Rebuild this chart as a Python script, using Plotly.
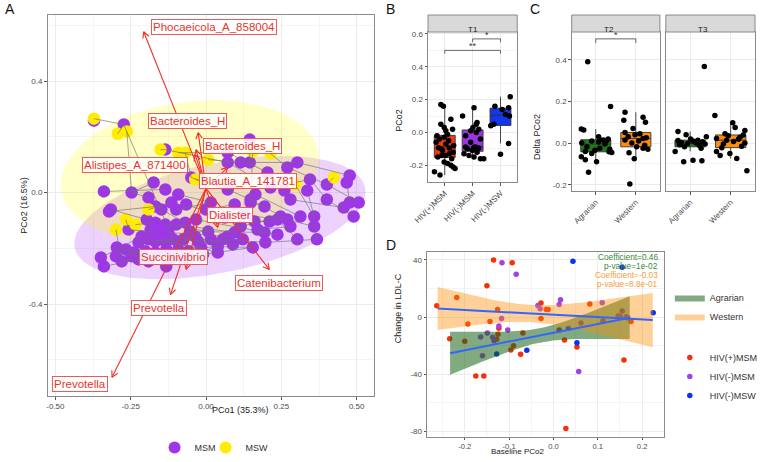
import numpy as np
import plotly.graph_objects as go

W, H = 763, 462
FONT = "Liberation Sans, Arial, sans-serif"

# ---------------- Panel A data (PCoA biplot) ----------------
msm_pc1 = [-0.372, -0.273, -0.135, 0.145, 0.072, 0.115, 0.145, 0.072, 0.303, 0.270,
           0.204, 0.477, 0.467, 0.345, 0.336, 0.401, 0.260, -0.049, -0.174, -0.339,
           -0.316, -0.247, 0.072, 0.148, 0.164, 0.214, 0.280, 0.401, 0.457, 0.477,
           0.507, 0.490, 0.359, 0.313, 0.237, 0.270, 0.368, -0.349, -0.339, -0.296,
           -0.299, -0.280, -0.247, -0.224, -0.224, -0.132, 0.039, 0.197, -0.322, -0.257,
           -0.135, -0.191, -0.168, -0.148, -0.115, -0.099, -0.197, -0.168, -0.135, -0.184,
           -0.158, -0.125, -0.099, -0.069, -0.053, -0.214, -0.191, -0.168, -0.135, -0.109,
           -0.076, -0.036, -0.026, 0.007, 0.016, 0.072, 0.039, -0.266, -0.240, -0.201,
           -0.168, -0.132, -0.092, -0.059, -0.016, 0.016, 0.0, 0.095, 0.115, 0.171,
           0.194, 0.148, 0.194, 0.211, 0.247, 0.280, 0.359, 0.095, 0.128, 0.161,
           0.062, -0.092, -0.066, -0.033, 0.089, 0.122, 0.155, 0.237, 0.303, 0.056,
           -0.010, -0.076, -0.109, -0.191]
msm_pc2 = [0.258, 0.244, 0.154, 0.190, 0.143, 0.108, 0.108, 0.108, 0.108, 0.090,
           0.072, 0.061, 0.036, 0.047, 0.007, 0.029, 0.007, 0.054, 0.036, 0.004,
           -0.061, 0.0, 0.011, -0.025, -0.007, 0.018, -0.025, -0.025, -0.054, -0.036,
           -0.036, -0.086, -0.086, -0.086, -0.097, -0.097, -0.168, -0.233, -0.265, -0.197,
           -0.229, -0.247, -0.229, -0.179, -0.240, -0.265, -0.194, -0.179, -0.068, -0.133,
           0.011, -0.018, -0.050, -0.061, -0.036, -0.061, -0.097, -0.108, -0.115, -0.133,
           -0.143, -0.143, -0.115, -0.108, -0.140, -0.158, -0.168, -0.176, -0.176, -0.168,
           -0.168, -0.158, -0.176, -0.140, -0.168, -0.158, -0.215, -0.204, -0.215, -0.211,
           -0.215, -0.204, -0.204, -0.211, -0.197, -0.036, -0.061, -0.143, -0.122, -0.133,
           -0.143, -0.036, -0.050, -0.104, -0.086, -0.122, -0.122, -0.043, -0.079, -0.104,
           -0.090, -0.007, -0.043, -0.097, -0.186, -0.168, -0.197, -0.151, -0.168, -0.168,
           -0.222, -0.233, -0.233, -0.247]
msw_pc1 = [-0.372, -0.293, -0.263, -0.151, -0.092, -0.069, 0.155, 0.214, 0.424, 0.296,
           -0.036, -0.191, -0.266, -0.299, -0.234, 0.007]
msw_pc2 = [0.265, 0.211, 0.219, 0.154, 0.143, 0.143, 0.147, 0.140, 0.054, 0.029,
           0.047, -0.061, -0.097, -0.133, -0.115, 0.118]
# sample links (positive = MSM sample number, negative = MSW sample number)
sample_links = [(-1, 2), (2, -2), (2, 70), (-3, 22), (3, -4), (3, 8), (-5, 5), (-6, 18), (4, 7),
                (5, 11), (6, 9), (8, 26), (9, 12), (10, 16), (11, 17), (14, 28), (13, 30), (15, 33),
                (16, 31), (17, 27), (18, 23), (19, 22), (20, 51), (21, 57), (22, 52), (23, 24),
                (24, 36), (25, 34), (26, 14), (27, 29), (28, 32), (33, 37), (35, 109), (36, 97),
                (38, 66), (39, 45), (40, 79), (41, 80), (42, 82), (43, 60), (44, 72), (45, 46),
                (46, 84), (47, 107), (48, 37), (49, 53), (50, 61), (-12, 55), (-13, 50), (-14, 42),
                (-15, 58), (54, 64), (56, 86), (59, 74), (62, 76), (63, 88), (65, 91), (67, 85),
                (68, 75), (69, 77), (71, 105), (73, 106), (78, 81), (83, 47), (87, 98), (89, 95),
                (90, 96), (92, 93), (94, 100), (99, 35), (101, 89), (102, 86), (103, 101),
                (104, 108), (-7, 92), (-8, 10), (-9, 16), (-10, 33), (-11, 23), (-16, 6),
                (110, 48), (111, 107), (112, 47), (113, 65), (114, 84)]
ellipse_groups = ["MSM", "MSW"]
ellipse_center = [(0.046, -0.090), (-0.053, 0.075)]
ellipse_axis1 = [(0.482, 0.108), (0.427, 0.065)]
ellipse_axis2 = [(0.036, -0.193), (0.032, -0.248)]
arrow_origin = (0.0, 0.015)
taxa = ["Phocaeicola_A_858004", "Bacteroides_H", "Bacteroides_H", "Alistipes_A_871400",
        "Blautia_A_141781", "Dialister", "Succinivibrio", "Catenibacterium",
        "Prevotella", "Prevotella"]
taxa_pc1 = [-0.207, -0.026, -0.033, -0.036, 0.072, 0.039, -0.066, 0.210, -0.118, -0.312]
taxa_pc2 = [0.577, 0.215, 0.154, 0.136, 0.090, -0.125, -0.276, -0.276, -0.366, -0.663]
taxa_label_pc1 = [0.026, -0.062, 0.122, -0.237, 0.138, 0.079, -0.108, 0.243, -0.155, -0.418]
taxa_label_pc2 = [0.595, 0.258, 0.168, 0.097, 0.043, -0.079, -0.233, -0.323, -0.416, -0.688]

# ---------------- Panel B data ----------------
b_groups = ["HIV(+)MSM", "HIV(-)MSM", "HIV(-)MSW"]
b_values = [
    [-0.26, -0.24, -0.22, -0.21, -0.20, -0.19, -0.18, -0.16, -0.15, -0.14, -0.14, -0.13, -0.12,
     -0.11, -0.10, -0.095, -0.093, -0.08, -0.07, -0.06, -0.05, -0.04, -0.03, -0.02, -0.012,
     0.01, 0.02, 0.03, 0.05, 0.08, 0.16, 0.17],
    [-0.16, -0.16, -0.15, -0.14, -0.13, -0.12, -0.11, -0.10, -0.095, -0.09, -0.089, -0.088,
     -0.06, -0.04, -0.02, 0.0, 0.01, 0.02, 0.03, 0.05, 0.06, 0.10, 0.15],
    [-0.133, -0.067, 0.04, 0.05, 0.10, 0.11, 0.14, 0.15, 0.16, 0.218],
]
b_jitter = [
    [-0.17, -0.37, 0.37, 0.30, 0.22, 0.10, -0.02, 0.25, -0.25, 0.02, -0.10, 0.16, 0.30, -0.08,
     -0.12, 0.16, -0.22, 0.32, 0.04, -0.31, 0.14, -0.19, -0.02, -0.28, 0.10, 0.04, 0.28, -0.02,
     -0.14, 0.22, -0.05, -0.14],
    [0.28, 0.40, 0.05, -0.13, -0.31, 0.16, -0.01, -0.19, 0.22, 0.05, -0.25, 0.10, -0.07, 0.28,
     -0.25, 0.13, -0.07, 0.22, 0.01, 0.13, 0.16, -0.36, 0.05],
    [0.0, 0.29, -0.35, -0.24, 0.32, 0.18, 0.06, 0.29, -0.20, 0.35],
]
b_colors = ["#F2380F", "#9A34E0", "#1235EE"]
b_brackets = [(1, 2, 0.57, "*"), (0, 2, 0.50, "**")]

# ---------------- Panel C data ----------------
c_times = ["T2", "T3"]
c_groups = ["Agrarian", "Western"]
c_values = {
    "T2": [[-0.14, -0.09, -0.08, -0.066, -0.05, -0.045, -0.042, -0.04, -0.035, -0.03, -0.025,
            -0.018, -0.005, 0.0, 0.005, 0.01, 0.012, 0.015, 0.016, 0.02, 0.03, 0.063, 0.067,
            0.175, 0.39],
           [-0.197, -0.075, -0.047, -0.03, -0.025, -0.018, -0.01, 0.0, 0.01, 0.015, 0.022, 0.025,
            0.03, 0.04, 0.045, 0.051, 0.07, 0.10, 0.11, 0.124, 0.148]],
    "T3": [[-0.09, -0.085, -0.082, -0.04, -0.025, -0.018, -0.012, -0.008, -0.005, -0.002, 0.0,
            0.003, 0.006, 0.01, 0.012, 0.014, 0.02, 0.03, 0.04, 0.055, 0.368],
           [-0.133, -0.074, -0.06, -0.05, -0.04, -0.022, -0.015, -0.005, 0.0, 0.008, 0.014,
            0.018, 0.022, 0.028, 0.035, 0.039, 0.045, 0.06, 0.075, 0.098, 0.132]],
}
c_jitter = {
    "T2": [[-0.18, 0.02, -0.26, -0.36, -0.10, 0.40, 0.33, -0.26, -0.02, 0.35, 0.10, -0.22, 0.23,
            -0.35, 0.07, -0.10, 0.27, 0.19, 0.10, 0.31, 0.07, -0.30, -0.36, 0.37, -0.20],
           [-0.15, -0.04, -0.17, 0.30, 0.18, 0.02, 0.22, -0.10, 0.07, -0.27, 0.18, 0.26, -0.19,
            -0.02, 0.10, -0.27, -0.07, 0.24, -0.30, 0.18, -0.27]],
    "T3": [[-0.16, 0.29, 0.07, -0.37, 0.27, -0.14, 0.23, -0.26, 0.37, -0.06, 0.15, -0.22, 0.31,
            0.07, -0.30, 0.19, 0.01, 0.40, -0.10, -0.30, 0.35],
           [0.40, 0.15, -0.26, -0.02, -0.35, -0.22, 0.27, -0.18, 0.35, 0.07, -0.10, 0.19, -0.35,
            0.23, -0.06, 0.31, -0.14, 0.35, 0.11, 0.05, -0.39]],
}
c_colors = ["#1D7A1D", "#FF8C0A"]
c_brackets = {"T2": [(0, 1, 0.50, "*")], "T3": []}

# ---------------- Panel D data ----------------
d_groups = ["HIV(+)MSM", "HIV(-)MSM", "HIV(-)MSW"]
d_baseline = [
    [-0.263, -0.218, -0.135, -0.093, -0.150, -0.193, -0.143, -0.126, -0.234, -0.200, -0.123,
     -0.128, -0.125, -0.096, -0.090, -0.069, -0.074, -0.175, -0.157, -0.028, -0.028, -0.016,
     -0.012, 0.013, 0.025, 0.053, 0.082, 0.028, 0.159, 0.175, 0.112, 0.146, 0.150],
    [-0.116, -0.084, 0.016, 0.013, -0.035, -0.030, -0.117, -0.123, -0.103, -0.149, -0.164,
     -0.137, -0.134, -0.160, 0.034, 0.062, 0.057, 0.110, 0.112, 0.155, 0.149, 0.164, 0.168],
    [0.044, 0.155, 0.225, 0.053, -0.060, -0.128],
]
d_change = [
    [7.9, 13.7, 40.0, 38.1, 21.9, -4.9, -3.0, 5.3, -15.1, -17.0, -7.9, -15.6, -12.0, -23.0,
     -20.0, -11.2, -26.0, -41.2, -41.2, 9.8, -0.9, 5.3, 5.3, -9.0, -16.0, -21.0, 9.1, -78.1,
     -30.0, -3.0, -2.8, 0.7, 0.5],
    [38.1, 30.0, 12.1, 8.8, 8.1, 5.8, -0.9, -6.3, -9.1, -11.2, -14.0, -14.2, -16.5, -27.0,
     -7.9, -4.2, -38.1, 10.0, -2.8, 4.2, 0.5, 0.2, -0.5],
    [39.1, 34.9, 3.0, -17.9, -23.3, -25.8],
]
d_colors = ["#F5300A", "#A540E6", "#0A32F0"]
diets = ["Agrarian", "Western"]
fit_xmin = [-0.233, -0.261]
fit_xmax = [0.172, 0.224]
fit_intercept = [-10.97, 1.64]
fit_slope = [61.5, -16.7]
fit_se_center = [-0.03, -0.051]
fit_se_min = [5.0, 6.0]
fit_se_slope = [69.7, 65.5]
fit_band_colors = ["rgba(25,100,25,0.55)", "rgba(255,140,0,0.40)"]
fit_text = [["Coefficient=0.46", "p-value=1e-02"], ["Coefficient=-0.03", "p-value=8.8e-01"]]
fit_text_colors = ["#3A8A3A", "#F2A040"]

# ---------------- layout helpers ----------------
boxes = {  # pixel boxes: x0, x1, y0(top), y1(bottom)
    "A": (48, 377, 15, 396),
    "B": (432, 522, 32, 182),
    "C2": (577, 666, 32, 191),
    "C3": (672, 762, 32, 191),
    "D": (431, 670, 252, 437),
}


def px(x):
    return x / W


def py(y):
    return 1 - y / H


def dom(key):
    x0, x1, y0, y1 = boxes[key]
    return [px(x0), px(x1)], [py(y1), py(y0)]


GRID = "#EBEBEB"
MINOR = "#F4F4F4"
BORDER = "#8A8A8A"


def fmt(vals, nd):
    return [f"{v:.{nd}f}" for v in vals]


def ax(domain, rng, tickvals=None, ticktext=None, minorvals=None, **kw):
    d = dict(domain=domain, range=rng, showline=True, mirror=True, linecolor=BORDER,
             linewidth=1, showgrid=True, gridcolor=GRID, gridwidth=0.9, zeroline=False,
             ticks="outside", ticklen=2.5, tickcolor="#555555", tickwidth=0.7,
             tickfont=dict(size=8, color="#4D4D4D", family=FONT), automargin=False,
             fixedrange=True)
    if tickvals is not None:
        d.update(tickmode="array", tickvals=tickvals, ticktext=ticktext)
    if minorvals is not None:
        d["minor"] = dict(tickmode="array", tickvals=minorvals, showgrid=True,
                          gridcolor=MINOR, gridwidth=0.5, ticks="")
    d.update(kw)
    return d


fig = go.Figure()

# ---------------- Panel A ----------------
A_xr = [-0.526, 0.556]
A_yr = [-0.73, 0.637]
ell_fill = {"MSM": "rgba(160,32,240,0.20)", "MSW": "rgba(255,255,0,0.22)"}
t = np.linspace(0, 2 * np.pi, 181)
for g, c, a1, a2 in zip(ellipse_groups, ellipse_center, ellipse_axis1, ellipse_axis2):
    ex = c[0] + np.cos(t) * a1[0] + np.sin(t) * a2[0]
    ey = c[1] + np.cos(t) * a1[1] + np.sin(t) * a2[1]
    fig.add_trace(go.Scatter(x=ex, y=ey, mode="lines", fill="toself", fillcolor=ell_fill[g],
                             line=dict(width=0), hoverinfo="skip", showlegend=False,
                             xaxis="x", yaxis="y"))

fig.add_trace(go.Scatter(x=msm_pc1, y=msm_pc2, mode="markers", name="MSM",
                         marker=dict(color="#9E36E8", size=12.5, line=dict(width=0)),
                         xaxis="x", yaxis="y", legend="legend", legendwidth=6))
fig.add_trace(go.Scatter(x=msw_pc1, y=msw_pc2, mode="markers", name="MSW",
                         marker=dict(color="#FFEC00", size=12.5, line=dict(width=0)),
                         xaxis="x", yaxis="y", legend="legend", legendwidth=30))


def sample_xy(i):
    if i > 0:
        return msm_pc1[i - 1], msm_pc2[i - 1]
    return msw_pc1[-i - 1], msw_pc2[-i - 1]


lx, ly = [], []
for a, b in sample_links:
    x0, y0 = sample_xy(a)
    x1, y1 = sample_xy(b)
    lx += [x0, x1, None]
    ly += [y0, y1, None]
fig.add_trace(go.Scatter(x=lx, y=ly, mode="lines", line=dict(color="rgba(110,110,110,0.8)", width=0.8),
                         hoverinfo="skip", showlegend=False, xaxis="x", yaxis="y"))

# arrows with open heads (head size in pixels)
kx = (boxes["A"][1] - boxes["A"][0]) / (A_xr[1] - A_xr[0])
ky = (boxes["A"][3] - boxes["A"][2]) / (A_yr[1] - A_yr[0])
hl, ang = 7.0, np.radians(28)
axx, axy = [], []
for tx, ty in zip(taxa_pc1, taxa_pc2):
    ox, oy = arrow_origin
    axx += [ox, tx, None]
    axy += [oy, ty, None]
    dx, dy = (tx - ox) * kx, (ty - oy) * ky
    L = np.hypot(dx, dy)
    bx, by = -dx / L, -dy / L
    for s in (1, -1):
        rx = bx * np.cos(s * ang) - by * np.sin(s * ang)
        ry = bx * np.sin(s * ang) + by * np.cos(s * ang)
        axx += [tx, tx + rx * hl / kx, None]
        axy += [ty, ty + ry * hl / ky, None]
fig.add_trace(go.Scatter(x=axx, y=axy, mode="lines", line=dict(color="#F0302A", width=1.1),
                         hoverinfo="skip", showlegend=False, xaxis="x", yaxis="y"))

annotations = []
for name, lxv, lyv in zip(taxa, taxa_label_pc1, taxa_label_pc2):
    annotations.append(dict(x=lxv, y=lyv, xref="x", yref="y", text=name, showarrow=False,
                            font=dict(size=11.5, color="#E8332D", family=FONT),
                            bgcolor="rgba(255,255,255,0.88)", bordercolor="#EE5A55",
                            borderwidth=1, borderpad=1))

A_xt = [-0.50, -0.25, 0.0, 0.25, 0.50]
A_yt = [-0.4, 0.0, 0.4]
xd, yd = dom("A")
layout_axes = {}
layout_axes["xaxis"] = ax(xd, A_xr, A_xt, fmt(A_xt, 2), [-0.375, -0.125, 0.125, 0.375], anchor="y")
layout_axes["yaxis"] = ax(yd, A_yr, A_yt, fmt(A_yt, 1), [-0.6, -0.2, 0.2, 0.6], anchor="x")

# ---------------- Panel B ----------------
def add_boxes(values, jitter, colors, xaxis, yaxis):
    for i, (vals, jit, col) in enumerate(zip(values, jitter, colors)):
        v = np.array(vals)
        q1, med, q3 = np.percentile(v, [25, 50, 75])
        iqr = q3 - q1
        lo = v[v >= q1 - 1.5 * iqr].min()
        hi = v[v <= q3 + 1.5 * iqr].max()
        fig.add_trace(go.Box(x=[i], q1=[q1], median=[med], q3=[q3], lowerfence=[lo],
                             upperfence=[hi], fillcolor=col, line=dict(color="#333333", width=0.9),
                             width=0.75, whiskerwidth=0, boxpoints=False, showlegend=False,
                             hoverinfo="skip", xaxis=xaxis, yaxis=yaxis))
    for i, (vals, jit) in enumerate(zip(values, jitter)):
        fig.add_trace(go.Scatter(x=[i + j for j in jit], y=vals, mode="markers",
                                 marker=dict(color="black", size=5.5), showlegend=False,
                                 hoverinfo="skip", xaxis=xaxis, yaxis=yaxis))


add_boxes(b_values, b_jitter, b_colors, "x2", "y2")
shapes = []


def add_brackets(brs, xref, yref, drop, fs):
    for a, b, yv, lab in brs:
        shapes.append(dict(type="path", xref=xref, yref=yref,
                           path=f"M {a},{yv - drop} L {a},{yv} L {b},{yv} L {b},{yv - drop}",
                           line=dict(color="#444444", width=0.8)))
        annotations.append(dict(x=(a + b) / 2, y=yv, xref=xref, yref=yref, text=lab,
                                showarrow=False, yanchor="bottom", yshift=-3,
                                font=dict(size=fs, color="#333333", family=FONT)))


add_brackets(b_brackets, "x2", "y2", 0.02, 9)
B_yt = [-0.2, 0.0, 0.2, 0.4, 0.6]
xd, yd = dom("B")
layout_axes["xaxis2"] = ax(xd, [-0.6, 2.6], [0, 1, 2], b_groups, None, anchor="y2", tickangle=-45)
layout_axes["yaxis2"] = ax(yd, [-0.302, 0.612], B_yt, fmt(B_yt, 1), [-0.3, -0.1, 0.1, 0.3, 0.5],
                           anchor="x2")

# ---------------- Panel C ----------------
C_yt = [-0.2, 0.0, 0.2, 0.4]
for k, (tname, key) in enumerate(zip(c_times, ["C2", "C3"])):
    xa, ya = f"x{3 + k}", f"y{3 + k}"
    add_boxes(c_values[tname], c_jitter[tname], c_colors, xa, ya)
    add_brackets(c_brackets[tname], xa, ya, 0.02, 9)
    xd, yd = dom(key)
    layout_axes[f"xaxis{3 + k}"] = ax(xd, [-0.6, 1.6], [0, 1], c_groups, None, anchor=ya,
                                      tickangle=-45)
    layout_axes[f"yaxis{3 + k}"] = ax(yd, [-0.23, 0.533], C_yt, fmt(C_yt, 1),
                                      [-0.1, 0.1, 0.3, 0.5], anchor=xa,
                                      showticklabels=(k == 0), ticks="outside" if k == 0 else "")

# ---------------- Panel D ----------------
for g, xs, ys, col in zip(d_groups, d_baseline, d_change, d_colors):
    fig.add_trace(go.Scatter(x=xs, y=ys, mode="markers", name=g,
                             marker=dict(color=col, size=5.5), xaxis="x5", yaxis="y5",
                             legend="legend3"))
for i, diet in enumerate(diets):
    xs = np.linspace(fit_xmin[i], fit_xmax[i], 80)
    yfit = fit_intercept[i] + fit_slope[i] * xs
    hw = np.sqrt(fit_se_min[i] ** 2 + (fit_se_slope[i] * (xs - fit_se_center[i])) ** 2)
    fig.add_trace(go.Scatter(x=np.concatenate([xs, xs[::-1]]),
                             y=np.concatenate([yfit + hw, (yfit - hw)[::-1]]),
                             mode="lines", fill="toself", fillcolor=fit_band_colors[i],
                             line=dict(width=0), name=diet, xaxis="x5", yaxis="y5",
                             legend="legend2", hoverinfo="skip"))
for i, diet in enumerate(diets):
    xs = np.array([fit_xmin[i], fit_xmax[i]])
    fig.add_trace(go.Scatter(x=xs, y=fit_intercept[i] + fit_slope[i] * xs, mode="lines",
                             line=dict(color="#3366FF", width=2), showlegend=False,
                             hoverinfo="skip", xaxis="x5", yaxis="y5"))
rows = 0
for i in range(len(diets)):
    for line in fit_text[i]:
        annotations.append(dict(x=0.985, y=1.0, xref="x5 domain", yref="y5 domain",
                                text=line, showarrow=False, xanchor="right", yanchor="top",
                                yshift=2.5 - 9.2 * rows,
                                font=dict(size=8.3, color=fit_text_colors[i], family=FONT)))
        rows += 1

D_xt = [-0.2, -0.1, 0.0, 0.1, 0.2]
D_yt = [-80, -40, 0, 40]
xd, yd = dom("D")
layout_axes["xaxis5"] = ax(xd, [-0.285, 0.249], D_xt, fmt(D_xt, 1),
                           [-0.25, -0.15, -0.05, 0.05, 0.15], anchor="y5", ticklen=1.5,
                           tickfont=dict(size=7.6, color="#4D4D4D", family=FONT))
layout_axes["yaxis5"] = ax(yd, [-84.0, 45.6], D_yt, [str(v) for v in D_yt], [-60, -20, 20],
                           anchor="x5")

# ---------------- strips, titles, panel letters ----------------
strips = [("B", "T1"), ("C2", "T2"), ("C3", "T3")]
for key, lab in strips:
    x0, x1, y0, _ = boxes[key]
    shapes.append(dict(type="rect", xref="paper", yref="paper", x0=px(x0), x1=px(x1),
                       y0=py(y0), y1=py(15), fillcolor="#D9D9D9",
                       line=dict(color=BORDER, width=1), layer="above"))
    annotations.append(dict(x=px((x0 + x1) / 2), y=py((y0 + 15) / 2), xref="paper", yref="paper",
                            text=lab, showarrow=False, font=dict(size=8, color="#1A1A1A", family=FONT)))

titles = [
    ("PCo1 (35.3%)", 212, 417, 0, 9),
    ("PCo2 (16.5%)", 17, 205, -90, 9),
    ("PCo2", 402, 107, -90, 9),
    ("Delta PCo2", 549, 112, -90, 9),
    ("Baseline PCo2", 551, 458, 0, 8),
    ("Change in LDL-C", 402, 345, -90, 9),
]
for txt, xx, yy, rot, fs in titles:
    annotations.append(dict(x=px(xx), y=py(yy), xref="paper", yref="paper", text=txt,
                            showarrow=False, textangle=rot,
                            font=dict(size=fs, color="#1A1A1A", family=FONT)))
for letter, xx, yy in [("A", 10, 9), ("B", 394, 9), ("C", 540, 9), ("D", 395, 245)]:
    annotations.append(dict(x=px(xx), y=py(yy), xref="paper", yref="paper", text=letter,
                            showarrow=False, xanchor="center", yanchor="middle",
                            font=dict(size=14, color="#111111", family=FONT)))

fig.update_layout(
    width=W, height=H, margin=dict(l=0, r=0, t=0, b=0), template="none",
    paper_bgcolor="white", plot_bgcolor="white",
    font=dict(family=FONT, size=9, color="#1A1A1A"),
    shapes=shapes, annotations=annotations,
    legend=dict(orientation="h", x=px(156), y=py(433), xanchor="left", yanchor="top",
                font=dict(size=9, color="#333333"), bgcolor="rgba(0,0,0,0)",
                itemsizing="constant"),
    legend2=dict(x=px(676), y=py(283), xanchor="left", yanchor="top",
                 font=dict(size=9, color="#333333"), bgcolor="rgba(0,0,0,0)"),
    legend3=dict(x=px(676), y=py(343), xanchor="left", yanchor="top",
                 font=dict(size=9, color="#333333"), bgcolor="rgba(0,0,0,0)"),
    **layout_axes,
)

fig.write_html(
    "out.html",
    config={"displayModeBar": False},
    post_script="document.body.style.margin='0';document.body.style.padding='0';"
                "document.documentElement.style.overflow='hidden';",
)
